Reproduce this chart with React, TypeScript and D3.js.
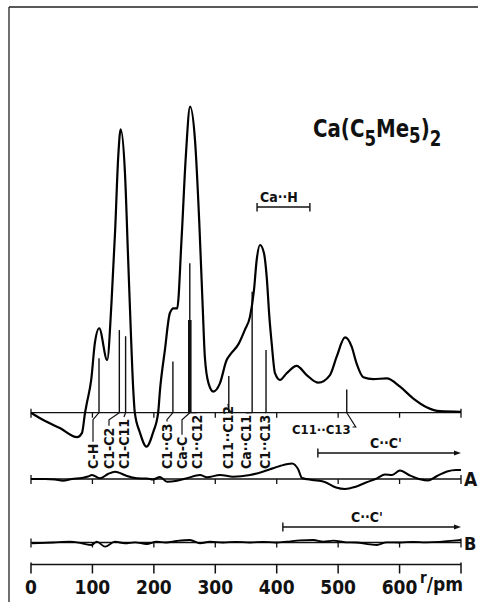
import React, { useRef, useEffect } from "react";
import * as d3 from "d3";

// radial distribution curve Ca(C5Me5)2 : r in pm, value in arbitrary units
const rdfR = [0, 20, 47, 75, 83, 88, 91, 98, 104, 111, 124, 131, 137, 142, 146, 153, 158, 162, 166.5, 169, 177, 188, 199, 207, 210, 218, 226, 232, 238, 245, 252, 259, 267, 274, 279.5, 283, 289, 297, 307.5, 318.5, 324, 338, 348, 356.5, 363, 367.4, 372.8, 379.3, 383.7, 388, 391.8, 397.2, 405.3, 416.2, 432.5, 448.8, 467.7, 486.7, 497.6, 511.2, 522, 530, 541, 557, 579, 600.7, 622, 644, 666, 700];
const rdfV = [0, -2.4, -5, -8, -6.6, 0, 3.2, 10.7, 22.8, 27.6, 17.2, 35.8, 59.7, 83.7, 92.6, 78.2, 51, 29.2, 7.4, 0, -6.3, -11.1, -6.3, 0, 7.4, 20.5, 32.5, 34.1, 34.1, 56.4, 83.7, 100, 89, 61.9, 34.6, 18.3, 9.6, 6.9, 9.6, 17.2, 18.9, 22.5, 27, 31.4, 40.1, 49.9, 54.8, 52.1, 44.4, 31.4, 22.7, 12.9, 10.7, 12.9, 15.3, 12.3, 9.8, 12.3, 18.3, 24.6, 21.6, 16.1, 11.6, 11, 11.2, 8.5, 4.7, 1.8, 0.5, 0.3];

// difference curve A
const diffAR = [0, 22.8, 39, 52, 66.7, 83, 92.8, 99.3, 112.3, 125.3, 136.7, 146.5, 156.3, 172.6, 188.8, 198.6, 210, 221.4, 237.7, 254, 275.1, 286.5, 307.7, 328.8, 356.5, 376, 389, 405.3, 424.9, 434.7, 441.2, 457.5, 477, 496.5, 511.2, 527.4, 545.3, 563.3, 576.3, 587.7, 600.7, 617, 633.3, 646.3, 661, 677.2, 691.9, 700];
const diffAV = [0, 0, -0.16, -0.56, 0, 0.33, 0.82, 1.31, 0.23, 1.63, 2.39, 1.8, 0.98, 0.23, 0.16, -0.16, 0.65, -0.88, -0.56, 0.23, 1.31, 0.56, 1.31, 0.75, 1.31, 2.29, 3.17, 4.25, 5.07, 3.27, 0.33, -0.33, -0.88, -2.78, -3.27, -2.61, -1.14, 0.23, 1.47, 1.31, 2.78, 1.14, -0.1, -0.49, 0.98, 2.45, 2.94, 2.94];

// difference curve B
const diffBR = [1, 36, 63.5, 82.5, 98.8, 107, 120.5, 136.7, 153, 169.3, 188.3, 204.6, 219.8, 237.2, 258.8, 275.1, 291.4, 312.6, 333.7, 356.5, 377.7, 398.8, 416.3, 437.9, 459.6, 475.8, 492.1, 512.8, 529, 551.9, 562.8, 579, 600.7, 621.9, 643, 665.8, 687.5, 700];
const diffBV = [-0.26, 0, 0.26, -0.26, -0.82, 0.26, -1.37, 0.26, -0.26, 0.07, -0.49, 0.26, 0, 0.49, 0.82, -0.26, 0.26, 0, 0.23, 0, 0.23, 0, 0.26, 0.72, 0.82, 0.26, 0.59, 0.07, 0, -0.59, -0.82, 0.07, 0, 0.23, 0.07, 0.23, 0.59, 0.82];

// distances (bar positions and heights)
const distLabels = ["C-H", "C1-C2", "C1-C11", "C1··C3", "Ca-C", "C1··C12", "C11··C12", "Ca··C11", "C1··C13"];
const distR = [110.7, 143.8, 154, 231, 258.5, 258.5, 322, 360, 382.6];
const distH = [17.8, 27, 25, 16.7, 48.8, 30.3, 12, 39.5, 20.5];
const farLabel = "C11··C13";
const farR = 514;
const farH = 7.6;

const caHRange = [368, 454];
const ccRangeA = [467, 700];
const ccRangeB = [410, 700];

const xTicks = [0, 100, 200, 300, 400, 500, 600, 700];

const W = 478;
const H = 602;
const font = "'Liberation Sans Narrow', 'DejaVu Sans Condensed', 'Liberation Sans', sans-serif";

const App = () => {
  const svgRef = useRef(null);

  useEffect(() => {
    const svg = d3.select(svgRef.current);
    svg.selectAll("*").remove();

    const x = d3.scaleLinear().domain([0, 700]).range([31, 461]);
    const y = d3.scaleLinear().domain([0, 100]).range([412.7, 106.7]);
    const unit = (y(0) - y(1));
    const baseA = 479;
    const baseB = 542.5;
    const yA = (v) => baseA - v * unit;
    const yB = (v) => baseB - v * unit;

    // frame
    svg.append("line").attr("x1", 9).attr("x2", 9).attr("y1", 7).attr("y2", H)
      .attr("stroke", "#222").attr("stroke-width", 1.3);
    svg.append("line").attr("x1", 9).attr("x2", W).attr("y1", 7).attr("y2", 7)
      .attr("stroke", "#222").attr("stroke-width", 1.3);

    // baselines with ticks
    const baseline = (yy) => {
      svg.append("line").attr("x1", x(0)).attr("x2", x(700)).attr("y1", yy).attr("y2", yy)
        .attr("stroke", "#111").attr("stroke-width", 1.3);
      svg.append("g").selectAll("line").data(xTicks).enter().append("line")
        .attr("x1", d => x(d)).attr("x2", d => x(d))
        .attr("y1", d => (d === 700 || d === 0) ? yy - 4 : yy)
        .attr("y2", yy + 5)
        .attr("stroke", "#111").attr("stroke-width", 1.3);
    };
    baseline(y(0));
    baseline(baseA);
    baseline(baseB);

    // sticks
    svg.append("g").selectAll("line").data(distR).enter().append("line")
      .attr("x1", d => x(d)).attr("x2", d => x(d))
      .attr("y1", y(0)).attr("y2", (d, i) => y(distH[i]))
      .attr("stroke", "#111")
      .attr("stroke-width", (d, i) => distLabels[i] === "C1··C12" ? 3.6 : 1.4);
    svg.append("line").attr("x1", x(farR)).attr("x2", x(farR))
      .attr("y1", y(0)).attr("y2", y(farH)).attr("stroke", "#111").attr("stroke-width", 1.4);

    // curves
    const mainLine = d3.line().x(d => x(d[0])).y(d => y(d[1])).curve(d3.curveMonotoneX);
    svg.append("path").datum(rdfR.map((r, i) => [r, rdfV[i]]))
      .attr("d", mainLine).attr("fill", "none").attr("stroke", "#000").attr("stroke-width", 2.2);

    const lineA = d3.line().x(d => x(d[0])).y(d => yA(d[1])).curve(d3.curveMonotoneX);
    svg.append("path").datum(diffAR.map((r, i) => [r, diffAV[i]]))
      .attr("d", lineA).attr("fill", "none").attr("stroke", "#000").attr("stroke-width", 2);

    const lineB = d3.line().x(d => x(d[0])).y(d => yB(d[1])).curve(d3.curveMonotoneX);
    svg.append("path").datum(diffBR.map((r, i) => [r, diffBV[i]]))
      .attr("d", lineB).attr("fill", "none").attr("stroke", "#000").attr("stroke-width", 1.8);

    // rotated distance labels with leader lines
    const labelX = [93, 109, 124, 167, 182, 197, 228, 246, 265];
    const labelBottom = 469;
    distLabels.forEach((lab, i) => {
      const t = svg.append("text")
        .attr("transform", `translate(${labelX[i]},${labelBottom}) rotate(-90)`)
        .attr("dy", "0.36em")
        .attr("font-family", font).attr("font-size", 14).attr("font-weight", "bold")
        .attr("fill", "#111")
        .text(lab);
      const len = t.node().getComputedTextLength();
      const top = labelBottom - len - 2;
      const bend = y(0) + 7;
      const pts = top > bend
        ? [[labelX[i], top], [labelX[i], bend], [x(distR[i]), y(0)]]
        : [[labelX[i], top], [x(distR[i]), y(0)]];
      svg.append("path").attr("d", d3.line()(pts))
        .attr("fill", "none").attr("stroke", "#111").attr("stroke-width", 1.2);
    });

    // horizontal label C11..C13
    const ft = svg.append("text").attr("x", 292).attr("y", 433.5)
      .attr("font-family", font).attr("font-size", 13).attr("font-weight", "bold")
      .attr("fill", "#111").text(farLabel);
    const fl = ft.node().getComputedTextLength();
    svg.append("path").attr("d", d3.line()([[292 + fl + 2, 427], [x(farR) + 9, 427], [x(farR), y(0)]]))
      .attr("fill", "none").attr("stroke", "#111").attr("stroke-width", 1.2);

    // Ca..H bracket
    svg.append("line").attr("x1", x(caHRange[0])).attr("x2", x(caHRange[1]))
      .attr("y1", 207).attr("y2", 207).attr("stroke", "#111").attr("stroke-width", 1.4);
    caHRange.forEach(r => svg.append("line").attr("x1", x(r)).attr("x2", x(r))
      .attr("y1", 203).attr("y2", 211.5).attr("stroke", "#111").attr("stroke-width", 1.4));
    svg.append("text").attr("x", 260).attr("y", 201.5)
      .attr("font-family", font).attr("font-size", 14).attr("font-weight", "bold")
      .attr("fill", "#111").text("Ca··H");

    // C..C' arrows
    const arrow = (range, yy, tx) => {
      svg.append("line").attr("x1", x(range[0])).attr("x2", x(range[1]) - 5)
        .attr("y1", yy).attr("y2", yy).attr("stroke", "#111").attr("stroke-width", 1.4);
      svg.append("line").attr("x1", x(range[0])).attr("x2", x(range[0]))
        .attr("y1", yy - 4.5).attr("y2", yy + 4.5).attr("stroke", "#111").attr("stroke-width", 1.4);
      const ex = x(range[1]);
      svg.append("path").attr("d", `M${ex},${yy} L${ex - 7},${yy - 2.6} L${ex - 7},${yy + 2.6} Z`)
        .attr("fill", "#111");
      svg.append("text").attr("x", tx).attr("y", yy - 5).attr("text-anchor", "middle")
        .attr("font-family", font).attr("font-size", 14).attr("font-weight", "bold")
        .attr("fill", "#111").text("C··C'");
    };
    arrow(ccRangeA, 453, 386);
    arrow(ccRangeB, 527, 367);

    // curve names
    svg.append("text").attr("x", 464).attr("y", 485.5)
      .attr("font-family", font).attr("font-size", 19).attr("font-weight", "bold")
      .attr("fill", "#111").text("A");
    svg.append("text").attr("x", 464).attr("y", 550)
      .attr("font-family", font).attr("font-size", 18).attr("font-weight", "bold")
      .attr("fill", "#111").text("B");

    // bottom axis
    const axisY = 564.5;
    svg.append("line").attr("x1", x(0)).attr("x2", x(700)).attr("y1", axisY).attr("y2", axisY)
      .attr("stroke", "#111").attr("stroke-width", 1.5);
    const ax = svg.append("g");
    ax.selectAll("line").data(xTicks).enter().append("line")
      .attr("x1", d => x(d)).attr("x2", d => x(d))
      .attr("y1", (d) => (d === 0 || d === 700) ? axisY - 2 : axisY).attr("y2", axisY + 9)
      .attr("stroke", "#111").attr("stroke-width", 1.5);
    ax.selectAll("text").data(xTicks.slice(0, 7)).enter().append("text")
      .attr("x", d => x(d)).attr("y", 593.5).attr("text-anchor", "middle")
      .attr("font-family", font).attr("font-size", 19).attr("font-weight", "bold")
      .attr("fill", "#111").text(d => d);
    const unitLabel = svg.append("text").attr("y", 590.5)
      .attr("font-family", font).attr("font-weight", "bold").attr("fill", "#111");
    unitLabel.append("tspan").attr("x", 420).attr("dy", -8).attr("font-size", 15).text("r");
    unitLabel.append("tspan").attr("dy", 8).attr("font-size", 19).text("/pm");

    // title, slightly compressed horizontally
    const title = svg.append("text").attr("transform", "translate(313,137) scale(0.88,1)")
      .attr("font-family", font).attr("font-size", 25).attr("font-weight", "bold").attr("fill", "#111");
    title.append("tspan").text("Ca(C");
    title.append("tspan").attr("font-size", 21).attr("dy", 9).text("5");
    title.append("tspan").attr("dy", -9).text("Me");
    title.append("tspan").attr("font-size", 21).attr("dy", 6).text("5");
    title.append("tspan").attr("dy", -6).text(")");
    title.append("tspan").attr("font-size", 21).attr("dy", 9).text("2");
  }, []);

  return (
    <svg ref={svgRef} width={W} height={H}
      style={{ position: "absolute", left: 0, top: 0, background: "#fff" }} />
  );
};

export default App;
